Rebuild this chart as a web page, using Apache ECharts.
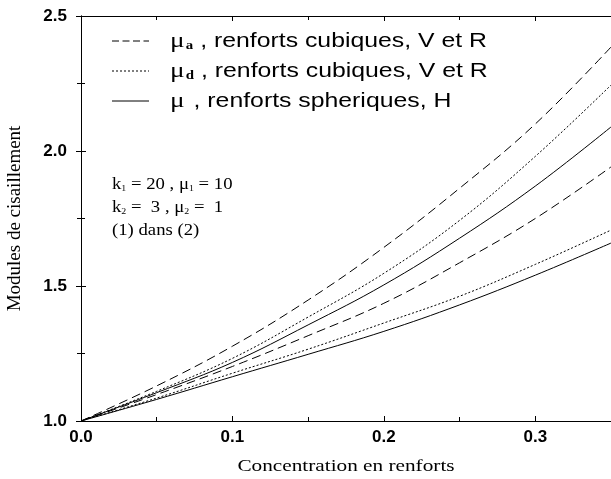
<!DOCTYPE html>
<html><head><meta charset="utf-8">
<script src="https://cdn.jsdelivr.net/npm/echarts@6/dist/echarts.min.js"></script>
<style>html,body{margin:0;padding:0;background:#fff}#c{width:611px;height:479px}</style>
</head><body><div id="c"></div>
<script>
const conc = [0, 0.05, 0.1, 0.15, 0.2, 0.25, 0.3, 0.35];
const muaV = [1, 1.13, 1.277, 1.448, 1.643, 1.862, 2.10, 2.385];
const mudV = [1, 1.11, 1.232, 1.385, 1.547, 1.743, 1.98, 2.244];
const muHU = [1, 1.105, 1.217, 1.356, 1.504, 1.677, 1.87, 2.089];
const muaR = [1, 1.098, 1.202, 1.316, 1.436, 1.586, 1.75, 1.941];
const mudR = [1, 1.085, 1.177, 1.266, 1.363, 1.462, 1.58, 1.707];
const muHL = [1, 1.08, 1.164, 1.247, 1.332, 1.43, 1.54, 1.659];
const xTicks = ['0.0', '0.1', '0.2', '0.3'];
const yTicks = ['1.0', '1.5', '2.0', '2.5'];

const chart = echarts.init(document.getElementById('c'));
const pair = (ys) => conc.map((x, i) => [x, ys[i]]);
const mk = (name, ys, type) => ({
  name, type: 'line', data: pair(ys), smooth: 0.4, symbol: 'none', silent: true,
  lineStyle: { color: '#000', width: 1, type }
});
const dash = [9, 5], dot = [2, 2];
const labFont = { fontFamily: 'Liberation Sans, Arial, sans-serif', fontWeight: 'bold', fontSize: 17, color: '#000' };
const tickCommon = { show: true, inside: true, length: 5, lineStyle: { color: '#000', width: 1 } };
const minorCommon = { show: true, splitNumber: 2, length: 4, lineStyle: { color: '#000', width: 1 } };
const serif = 'Liberation Serif, Times New Roman, serif';

chart.setOption({
  animation: false,
  backgroundColor: '#fff',
  grid: { left: 81, top: 16, right: 0, bottom: 58, containLabel: false, outerBoundsMode: 'none' },
  xAxis: [{
    type: 'value', min: 0, max: 0.35, interval: 0.1,
    axisLine: { show: true, lineStyle: { color: '#000', width: 1 } },
    axisTick: tickCommon, minorTick: minorCommon, splitLine: { show: false },
    axisLabel: Object.assign({ margin: 8, showMaxLabel: false,
      formatter: v => { const i = Math.round(v * 10); return Math.abs(v * 10 - i) < 1e-6 && xTicks[i] ? xTicks[i] : ''; } }, labFont)
  }, {
    type: 'value', position: 'top', min: 0, max: 0.35, interval: 0.1,
    axisLine: { show: true, lineStyle: { color: '#000', width: 1 } },
    axisTick: tickCommon, minorTick: minorCommon, splitLine: { show: false }, axisLabel: { show: false }
  }],
  yAxis: [{
    type: 'value', min: 1, max: 2.5, interval: 0.5,
    axisLine: { show: true, lineStyle: { color: '#000', width: 1 } },
    axisTick: tickCommon, minorTick: minorCommon, splitLine: { show: false },
    axisLabel: Object.assign({ margin: 14,
      formatter: v => { const i = Math.round((v - 1) * 2); return yTicks[i] || ''; } }, labFont),
    name: 'Modules de cisaillement', nameLocation: 'middle', nameGap: 56, nameRotate: 90,
    nameTextStyle: { fontFamily: serif, fontSize: 19, color: '#000' }
  }, {
    type: 'value', position: 'right', min: 1, max: 2.5, interval: 0.5,
    axisLine: { show: true, lineStyle: { color: '#000', width: 1 } },
    axisTick: tickCommon, minorTick: minorCommon, splitLine: { show: false }, axisLabel: { show: false }
  }],
  series: [
    mk('mua V', muaV, dash), mk('mud V', mudV, dot), mk('mu HU', muHU, 'solid'),
    mk('mua R', muaR, dash), mk('mud R', mudR, dot), mk('mu HL', muHL, 'solid')
  ],
  graphic: (function () {
    const g = [];
    g.push({ type: 'text', x: 346, y: 467, scaleX: 1.25, originX: 0, originY: 0, style: {
      text: 'Concentration en renforts', font: '17px ' + serif, fill: '#000',
      align: 'center', verticalAlign: 'middle' } });
    const rows = [
      { y: 41, sub: 'a', text: ' , renforts cubiques, V et R', dash: [7, 3.5] },
      { y: 71, sub: 'd', text: ' , renforts cubiques, V et R', dash: [2, 2] },
      { y: 101, sub: '', text: ' , renforts spheriques, H', dash: null }
    ];
    rows.forEach(r => {
      g.push({ type: 'line', shape: { x1: 112, y1: r.y, x2: 149, y2: r.y },
        style: { stroke: '#000', lineWidth: 1, lineDash: r.dash } });
      g.push({ type: 'text', x: 170, y: r.y, scaleX: 1.24, originX: 0, originY: 0, style: {
        text: '{mu|μ}' + (r.sub ? '{sub|' + r.sub + '}' : '{sp| }') + '{t|' + r.text + '}',
        verticalAlign: 'middle', fill: '#000',
        rich: {
          mu: { fontFamily: serif, fontSize: 22, fill: '#000' },
          sub: { fontFamily: serif, fontSize: 12, fontWeight: 'bold', padding: [10, 0, 0, 1], fill: '#000' },
          sp: { fontSize: 6, fill: '#000' },
          t: { fontFamily: 'Liberation Sans, Arial, sans-serif', fontSize: 20, fill: '#000' }
        } } });
    });
    const ann = [
      { y: 185, parts: [['k', 'm'], ['1', 's'], [' = 20 , ', 'm'], ['μ', 'm'], ['1', 's'], [' = 10', 'm']] },
      { y: 208, parts: [['k', 'm'], ['2', 's'], [' =  3 , ', 'm'], ['μ', 'm'], ['2', 's'], [' =  1', 'm']] },
      { y: 231, parts: [['(1) dans (2)', 'm']] }
    ];
    ann.forEach(a => {
      g.push({ type: 'text', x: 112, y: a.y, scaleX: 1.1, originX: 0, originY: 0, style: {
        text: a.parts.map(p => '{' + p[1] + '|' + p[0] + '}').join(''),
        verticalAlign: 'middle', fill: '#000',
        rich: {
          m: { fontFamily: serif, fontSize: 17, fill: '#000' },
          s: { fontFamily: serif, fontSize: 9, padding: [8, 0, 0, 0], fill: '#000' }
        } } });
    });
    return g;
  })()
});
</script></body></html>
